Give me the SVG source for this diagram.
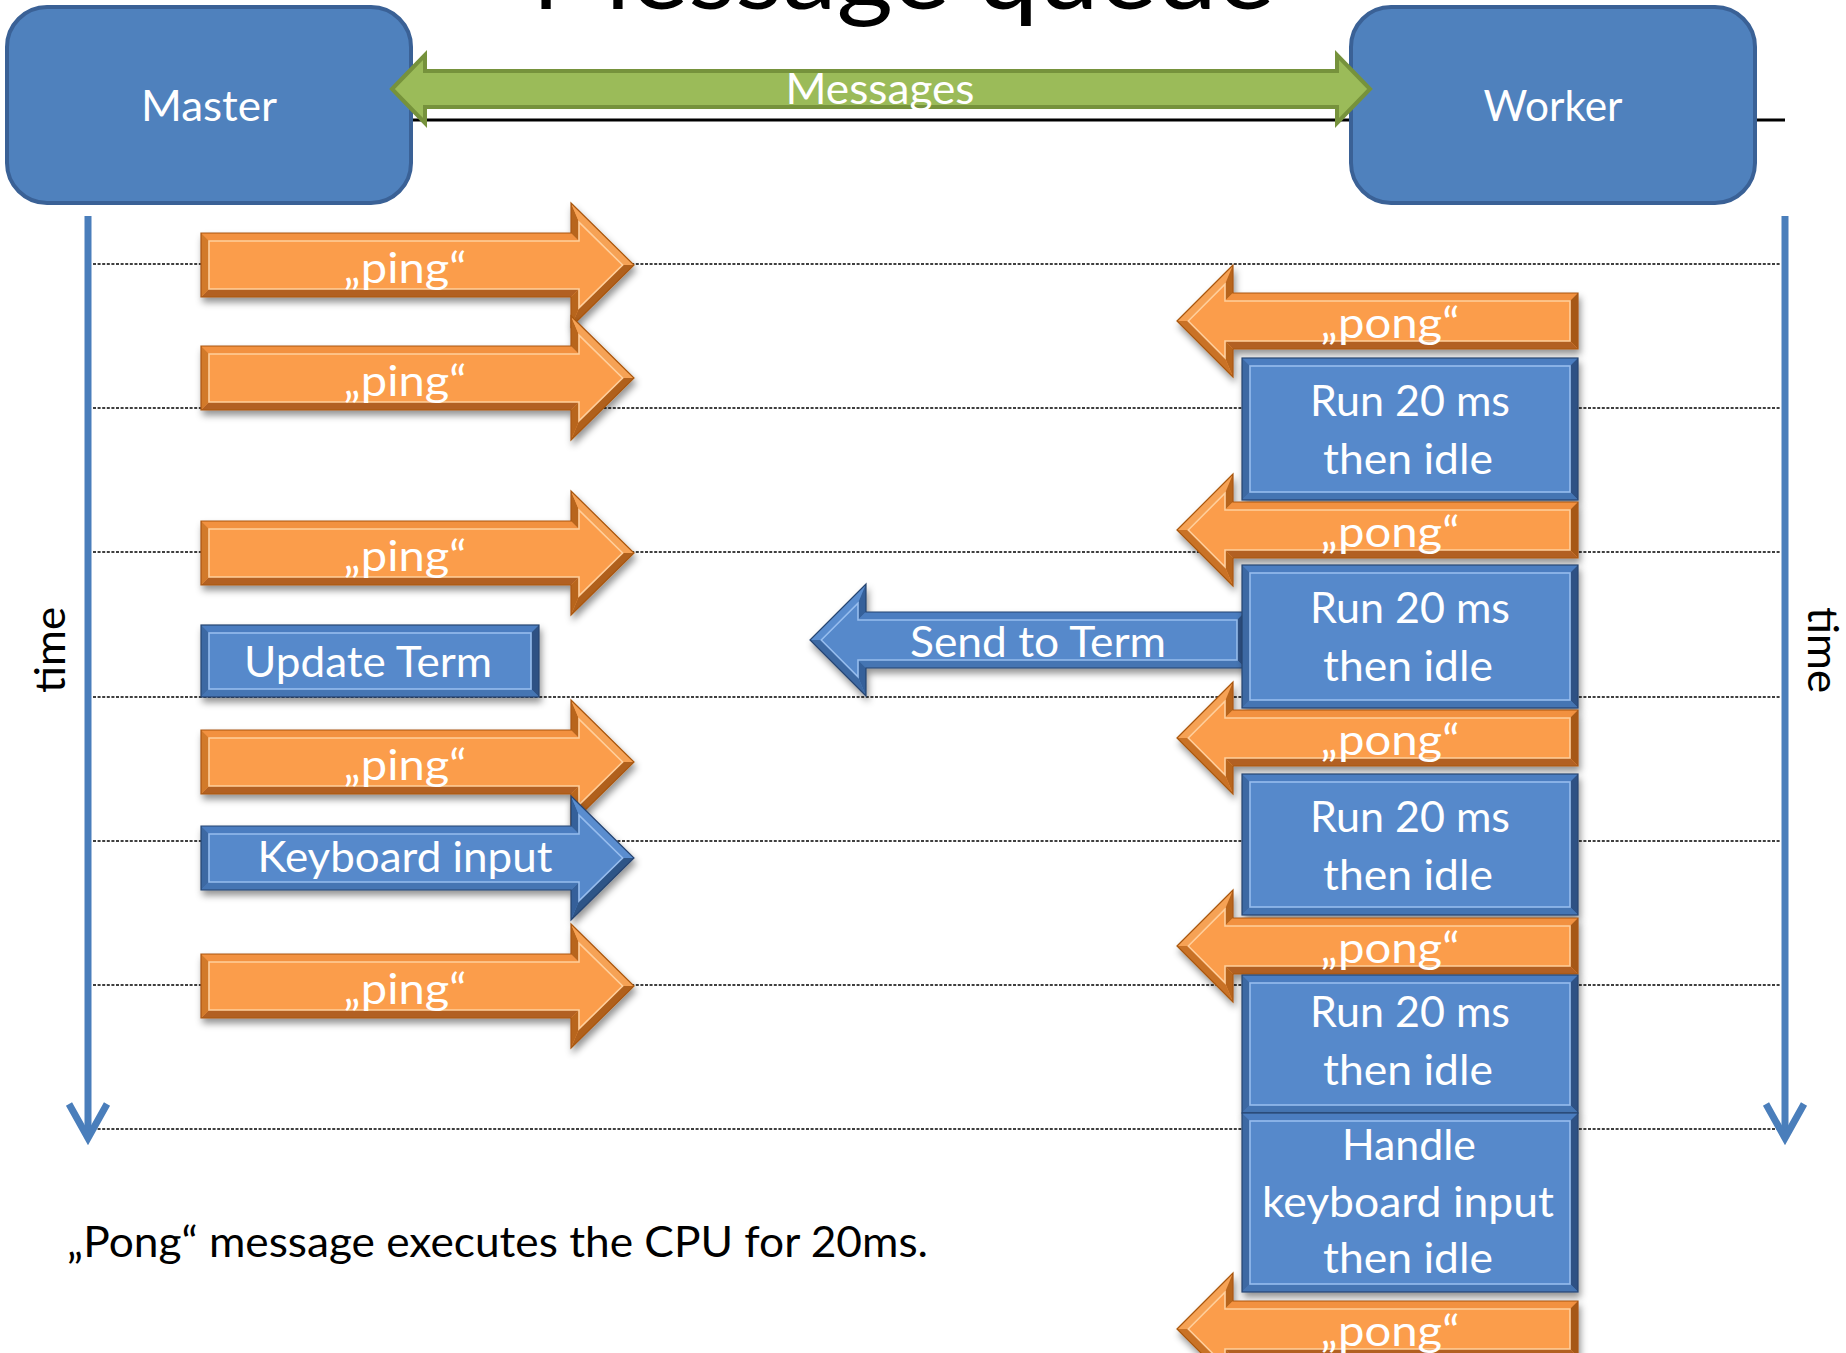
<svg xmlns="http://www.w3.org/2000/svg" xmlns:xlink="http://www.w3.org/1999/xlink" width="1846" height="1353" viewBox="0 0 1846 1353">
  <style>
    text { font-family: Lato, "Noto Sans", "Liberation Sans", sans-serif; }
    .lbl { fill: #ffffff; font-size: 42px; text-anchor: middle; }
    .dark { fill: #000000; font-size: 42px; }
    .dots { stroke: #000000; stroke-width: 1.3; stroke-dasharray: 3 1.6; }
    .axis { stroke: #4A7EBB; stroke-width: 7; fill: none; stroke-linejoin: miter; }
    .party rect { fill: #4F81BD; stroke: #3A6196; stroke-width: 4; }
    /* chamfered blue shapes */
    .bl .face { fill: #5689CB; }
    .bl .t { fill: #4C7DC0; }
    .bl .ul { fill: #5A8DCF; }
    .bl .l { fill: #3C69A3; }
    .bl .hb { fill: #34609A; }
    .bl .ld { fill: #2E5487; }
    .bl .b { fill: #4474B3; }
    .bl .r { fill: #2D5184; }
    .bl .in { fill: none; stroke: #97BDEE; stroke-width: 1.6; }
    .bl .out { fill: none; stroke: #274571; stroke-width: 1.2; }
  </style>
  <defs>
    <filter id="sh" x="-6%" y="-15%" width="118%" height="145%">
      <feDropShadow dx="2" dy="5" stdDeviation="3.5" flood-color="#000000" flood-opacity="0.42"/>
    </filter>
    <!-- orange block arrow pointing right, origin at left end of shaft centre -->
    <g id="pingShape">
      <polygon fill="#FB9D4C" points="0,-32 370,-32 370,-62 433,0 370,62 370,32 0,32"/>
      <polygon fill="#F2913F" points="0,-32 370,-32 378,-24 8,-24"/>
      <polygon fill="#B8651F" points="370,-32 370,-62 378,-42.9 378,-24"/>
      <polygon fill="#F6A254" points="370,-62 433,0 421.6,0 378,-42.9"/>
      <polygon fill="#B0601C" points="433,0 370,62 378,42.9 421.6,0"/>
      <polygon fill="#B8651F" points="370,62 370,32 378,24 378,42.9"/>
      <polygon fill="#B26120" points="370,32 0,32 8,24 378,24"/>
      <polygon fill="#D27A2B" points="0,32 0,-32 8,-24 8,24"/>
      <polygon fill="none" stroke="#FFCF9C" stroke-width="1.6" points="8,-24 378,-24 378,-42.9 421.6,0 378,42.9 378,24 8,24"/>
      <polygon fill="none" stroke="#A9560F" stroke-width="1.2" points="0,-32 370,-32 370,-62 433,0 370,62 370,32 0,32"/>
    </g>
    <!-- orange block arrow pointing left, origin at the tip -->
    <g id="pongShape">
      <polygon fill="#FB9D4C" points="0,0 56,-56 56,-28 401,-28 401,28 56,28 56,56"/>
      <polygon fill="#F6A254" points="0,0 56,-56 48,-36.7 11.3,0"/>
      <polygon fill="#B8651F" points="56,-56 56,-28 48,-20 48,-36.7"/>
      <polygon fill="#F2913F" points="56,-28 401,-28 393,-20 48,-20"/>
      <polygon fill="#A65818" points="401,-28 401,28 393,20 393,-20"/>
      <polygon fill="#B26120" points="401,28 56,28 48,20 393,20"/>
      <polygon fill="#B8651F" points="56,28 56,56 48,36.7 48,20"/>
      <polygon fill="#C97228" points="56,56 0,0 11.3,0 48,36.7"/>
      <polygon fill="none" stroke="#FFCF9C" stroke-width="1.6" points="11.3,0 48,-36.7 48,-20 393,-20 393,20 48,20 48,36.7"/>
      <polygon fill="none" stroke="#A9560F" stroke-width="1.2" points="0,0 56,-56 56,-28 401,-28 401,28 56,28 56,56"/>
    </g>
  </defs>

  <rect width="1846" height="1353" fill="#ffffff"/>

  <!-- title, mostly above the top edge -->
  <text x="903" y="9" font-size="100" text-anchor="middle" textLength="743" lengthAdjust="spacingAndGlyphs" fill="#000000">Message queue</text>

  <!-- time axes and dotted time slots -->
  <g id="timeline">
    <line class="dots" x1="93" y1="264" x2="1780" y2="264"/>
    <line class="dots" x1="93" y1="408" x2="1780" y2="408"/>
    <line class="dots" x1="93" y1="552" x2="1780" y2="552"/>
    <line class="dots" x1="93" y1="697" x2="1780" y2="697"/>
    <line class="dots" x1="93" y1="841" x2="1780" y2="841"/>
    <line class="dots" x1="93" y1="985" x2="1780" y2="985"/>
    <line class="dots" x1="93" y1="1129" x2="1780" y2="1129"/>
    <line class="axis" x1="88" y1="216" x2="88" y2="1138"/>
    <path class="axis" d="M69,1104 L88,1138 L107,1104"/>
    <line class="axis" x1="1785" y1="216" x2="1785" y2="1138"/>
    <path class="axis" d="M1766,1104 L1785,1138 L1804,1104"/>
    <text class="dark" transform="translate(65,650) rotate(-90)" text-anchor="middle" textLength="86" lengthAdjust="spacingAndGlyphs">time</text>
    <text class="dark" transform="translate(1808,650) rotate(90)" text-anchor="middle" textLength="86" lengthAdjust="spacingAndGlyphs">time</text>
  </g>

  <g id="connectors">
    <line x1="411" y1="120" x2="1785" y2="120" stroke="#000000" stroke-width="3"/>
  </g>

  <g id="master" class="party">
    <rect x="7" y="7" width="404" height="196" rx="40" ry="40"/>
    <text class="lbl" x="209" y="121" textLength="136" lengthAdjust="spacingAndGlyphs">Master</text>
  </g>
  <g id="worker" class="party">
    <rect x="1351" y="7" width="404" height="196" rx="40" ry="40"/>
    <text class="lbl" x="1553" y="121" textLength="139" lengthAdjust="spacingAndGlyphs">Worker</text>
  </g>

  <g id="messages">
    <path d="M392,89 L425,55 L425,71 L1337,71 L1337,55 L1370,89 L1337,123 L1337,107 L425,107 L425,123 Z" fill="#9BBB59" stroke="#76923C" stroke-width="4" stroke-linejoin="miter"/>
    <text class="lbl" x="880" y="104" textLength="189" lengthAdjust="spacingAndGlyphs">Messages</text>
  </g>

  <!-- master side -->
  <g id="ping1">
    <use xlink:href="#pingShape" transform="translate(201,265)" filter="url(#sh)"/>
    <text class="lbl" x="405" y="283" textLength="123" lengthAdjust="spacingAndGlyphs">„ping“</text>
  </g>
  <g id="ping2">
    <use xlink:href="#pingShape" transform="translate(201,378)" filter="url(#sh)"/>
    <text class="lbl" x="405" y="396" textLength="123" lengthAdjust="spacingAndGlyphs">„ping“</text>
  </g>
  <g id="ping3">
    <use xlink:href="#pingShape" transform="translate(201,553)" filter="url(#sh)"/>
    <text class="lbl" x="405" y="571" textLength="123" lengthAdjust="spacingAndGlyphs">„ping“</text>
  </g>
  <g id="update-term">
    <g class="bl" transform="translate(201,625)" filter="url(#sh)">
      <rect class="face" width="338" height="72"/>
      <polygon class="t" points="0,0 338,0 330,8 8,8"/>
      <polygon class="r" points="338,0 338,72 330,64 330,8"/>
      <polygon class="b" points="338,72 0,72 8,64 330,64"/>
      <polygon class="l" points="0,72 0,0 8,8 8,64"/>
      <rect class="in" x="8" y="8" width="322" height="56"/>
      <rect class="out" width="338" height="72"/>
    </g>
    <text class="lbl" x="368" y="677" textLength="248" lengthAdjust="spacingAndGlyphs">Update Term</text>
  </g>
  <g id="ping4">
    <use xlink:href="#pingShape" transform="translate(201,762)" filter="url(#sh)"/>
    <text class="lbl" x="405" y="780" textLength="123" lengthAdjust="spacingAndGlyphs">„ping“</text>
  </g>
  <g id="keyboard-input">
    <g class="bl" transform="translate(201,858)" filter="url(#sh)">
      <polygon class="face" points="0,-32 370,-32 370,-62 433,0 370,62 370,32 0,32"/>
      <polygon class="t" points="0,-32 370,-32 378,-24 8,-24"/>
      <polygon class="hb" points="370,-32 370,-62 378,-42.9 378,-24"/>
      <polygon class="ul" points="370,-62 433,0 421.6,0 378,-42.9"/>
      <polygon class="ld" points="433,0 370,62 378,42.9 421.6,0"/>
      <polygon class="hb" points="370,62 370,32 378,24 378,42.9"/>
      <polygon class="b" points="370,32 0,32 8,24 378,24"/>
      <polygon class="l" points="0,32 0,-32 8,-24 8,24"/>
      <polygon class="in" points="8,-24 378,-24 378,-42.9 421.6,0 378,42.9 378,24 8,24"/>
      <polygon class="out" points="0,-32 370,-32 370,-62 433,0 370,62 370,32 0,32"/>
    </g>
    <text class="lbl" x="405" y="872" textLength="295" lengthAdjust="spacingAndGlyphs">Keyboard input</text>
  </g>
  <g id="ping5">
    <use xlink:href="#pingShape" transform="translate(201,986)" filter="url(#sh)"/>
    <text class="lbl" x="405" y="1004" textLength="123" lengthAdjust="spacingAndGlyphs">„ping“</text>
  </g>

  <!-- worker side -->
  <g id="pong1">
    <use xlink:href="#pongShape" transform="translate(1177,321)" filter="url(#sh)"/>
    <text class="lbl" x="1390" y="338" textLength="139" lengthAdjust="spacingAndGlyphs">„pong“</text>
  </g>
  <g id="run1">
    <g class="bl" transform="translate(1242,358)" filter="url(#sh)">
      <rect class="face" width="336" height="142"/>
      <polygon class="t" points="0,0 336,0 328,8 8,8"/>
      <polygon class="r" points="336,0 336,142 328,134 328,8"/>
      <polygon class="b" points="336,142 0,142 8,134 328,134"/>
      <polygon class="l" points="0,142 0,0 8,8 8,134"/>
      <rect class="in" x="8" y="8" width="320" height="126"/>
      <rect class="out" width="336" height="142"/>
    </g>
    <text class="lbl" x="1410" y="416" textLength="200" lengthAdjust="spacingAndGlyphs">Run 20 ms</text>
    <text class="lbl" x="1408" y="474" textLength="170" lengthAdjust="spacingAndGlyphs">then idle</text>
  </g>
  <g id="pong2">
    <use xlink:href="#pongShape" transform="translate(1177,530)" filter="url(#sh)"/>
    <text class="lbl" x="1390" y="547" textLength="139" lengthAdjust="spacingAndGlyphs">„pong“</text>
  </g>
  <g id="send-to-term">
    <g class="bl" transform="translate(810,640)" filter="url(#sh)">
      <polygon class="face" points="0,0 56,-56 56,-28 435,-28 435,28 56,28 56,56"/>
      <polygon class="ul" points="0,0 56,-56 48,-36.7 11.3,0"/>
      <polygon class="hb" points="56,-56 56,-28 48,-20 48,-36.7"/>
      <polygon class="t" points="56,-28 435,-28 427,-20 48,-20"/>
      <polygon class="r" points="435,-28 435,28 427,20 427,-20"/>
      <polygon class="b" points="435,28 56,28 48,20 427,20"/>
      <polygon class="hb" points="56,28 56,56 48,36.7 48,20"/>
      <polygon class="l" points="56,56 0,0 11.3,0 48,36.7"/>
      <polygon class="in" points="11.3,0 48,-36.7 48,-20 427,-20 427,20 48,20 48,36.7"/>
      <polygon class="out" points="0,0 56,-56 56,-28 435,-28 435,28 56,28 56,56"/>
    </g>
    <text class="lbl" x="1038" y="657" textLength="256" lengthAdjust="spacingAndGlyphs">Send to Term</text>
  </g>
  <g id="run2">
    <g class="bl" transform="translate(1242,565)" filter="url(#sh)">
      <rect class="face" width="336" height="143"/>
      <polygon class="t" points="0,0 336,0 328,8 8,8"/>
      <polygon class="r" points="336,0 336,143 328,135 328,8"/>
      <polygon class="b" points="336,143 0,143 8,135 328,135"/>
      <polygon class="l" points="0,143 0,0 8,8 8,135"/>
      <rect class="in" x="8" y="8" width="320" height="127"/>
      <rect class="out" width="336" height="143"/>
    </g>
    <text class="lbl" x="1410" y="623" textLength="200" lengthAdjust="spacingAndGlyphs">Run 20 ms</text>
    <text class="lbl" x="1408" y="681" textLength="170" lengthAdjust="spacingAndGlyphs">then idle</text>
  </g>
  <g id="pong3">
    <use xlink:href="#pongShape" transform="translate(1177,738)" filter="url(#sh)"/>
    <text class="lbl" x="1390" y="755" textLength="139" lengthAdjust="spacingAndGlyphs">„pong“</text>
  </g>
  <g id="run3">
    <g class="bl" transform="translate(1242,774)" filter="url(#sh)">
      <rect class="face" width="336" height="141"/>
      <polygon class="t" points="0,0 336,0 328,8 8,8"/>
      <polygon class="r" points="336,0 336,141 328,133 328,8"/>
      <polygon class="b" points="336,141 0,141 8,133 328,133"/>
      <polygon class="l" points="0,141 0,0 8,8 8,133"/>
      <rect class="in" x="8" y="8" width="320" height="125"/>
      <rect class="out" width="336" height="141"/>
    </g>
    <text class="lbl" x="1410" y="832" textLength="200" lengthAdjust="spacingAndGlyphs">Run 20 ms</text>
    <text class="lbl" x="1408" y="890" textLength="170" lengthAdjust="spacingAndGlyphs">then idle</text>
  </g>
  <g id="pong4">
    <use xlink:href="#pongShape" transform="translate(1177,946)" filter="url(#sh)"/>
    <text class="lbl" x="1390" y="963" textLength="139" lengthAdjust="spacingAndGlyphs">„pong“</text>
  </g>
  <g id="run4">
    <g class="bl" transform="translate(1242,975)" filter="url(#sh)">
      <rect class="face" width="336" height="138"/>
      <polygon class="t" points="0,0 336,0 328,8 8,8"/>
      <polygon class="r" points="336,0 336,138 328,130 328,8"/>
      <polygon class="b" points="336,138 0,138 8,130 328,130"/>
      <polygon class="l" points="0,138 0,0 8,8 8,130"/>
      <rect class="in" x="8" y="8" width="320" height="122"/>
      <rect class="out" width="336" height="138"/>
    </g>
    <text class="lbl" x="1410" y="1027" textLength="200" lengthAdjust="spacingAndGlyphs">Run 20 ms</text>
    <text class="lbl" x="1408" y="1085" textLength="170" lengthAdjust="spacingAndGlyphs">then idle</text>
  </g>
  <g id="handle-keyboard">
    <g class="bl" transform="translate(1242,1113)" filter="url(#sh)">
      <rect class="face" width="336" height="179"/>
      <polygon class="t" points="0,0 336,0 328,8 8,8"/>
      <polygon class="r" points="336,0 336,179 328,171 328,8"/>
      <polygon class="b" points="336,179 0,179 8,171 328,171"/>
      <polygon class="l" points="0,179 0,0 8,8 8,171"/>
      <rect class="in" x="8" y="8" width="320" height="163"/>
      <rect class="out" width="336" height="179"/>
    </g>
    <text class="lbl" x="1409" y="1160" textLength="134" lengthAdjust="spacingAndGlyphs">Handle</text>
    <text class="lbl" x="1408" y="1217" textLength="292" lengthAdjust="spacingAndGlyphs">keyboard input</text>
    <text class="lbl" x="1408" y="1273" textLength="170" lengthAdjust="spacingAndGlyphs">then idle</text>
  </g>
  <g id="pong5">
    <use xlink:href="#pongShape" transform="translate(1177,1329)" filter="url(#sh)"/>
    <text class="lbl" x="1390" y="1346" textLength="139" lengthAdjust="spacingAndGlyphs">„pong“</text>
  </g>

  <text class="dark" x="67" y="1257" textLength="861" lengthAdjust="spacingAndGlyphs">„Pong“ message executes the CPU for 20ms.</text>
</svg>
